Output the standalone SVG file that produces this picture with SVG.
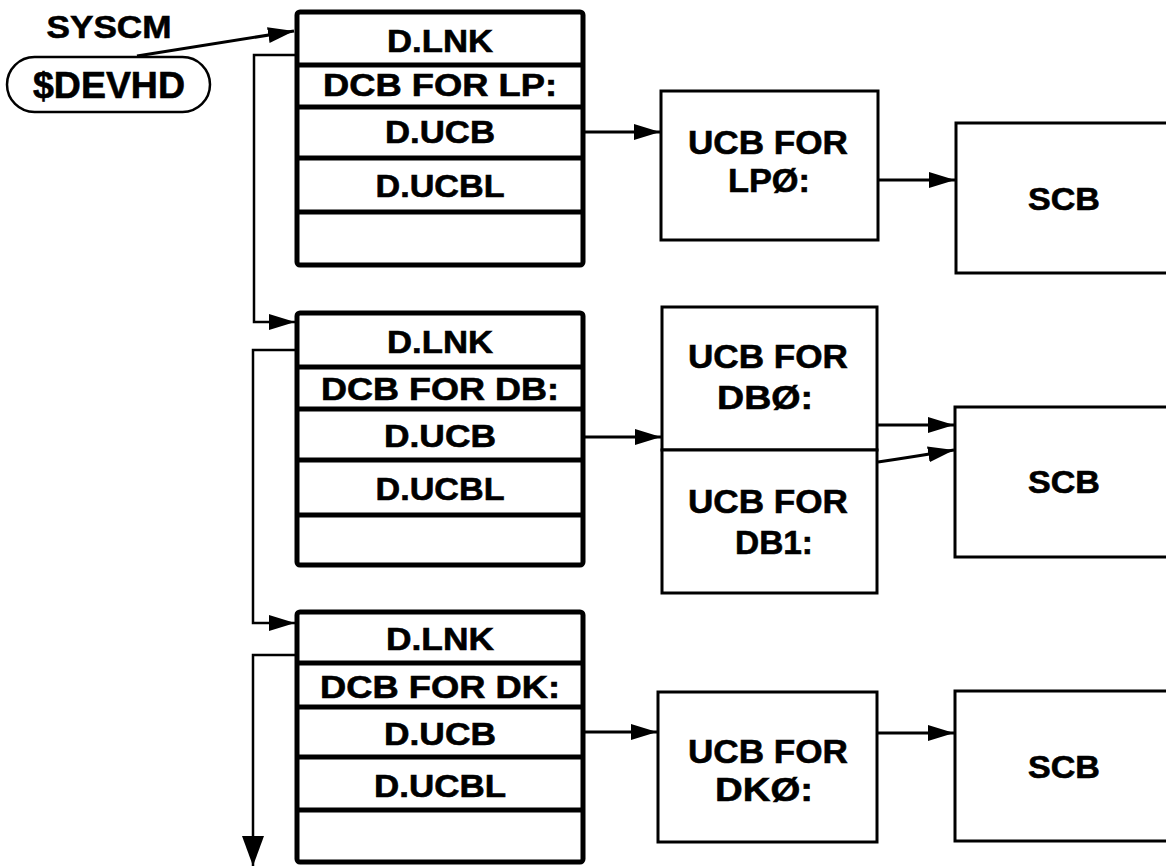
<svg xmlns="http://www.w3.org/2000/svg" width="1166" height="867" viewBox="0 0 1166 867">
<style>
.bg{fill:#fff}
.dcb{fill:#fff;stroke:#000;stroke-width:5}
.div{stroke:#000;stroke-width:5}
.box{fill:#fff;stroke:#000;stroke-width:3}
.oval{fill:#fff;stroke:#000;stroke-width:2.5}
.ln{fill:none;stroke:#000;stroke-width:3}
.lk{fill:none;stroke:#000;stroke-width:2.5}
text{font-family:"Liberation Sans",Arial,sans-serif;font-weight:bold;fill:#000;stroke:#000;stroke-width:0.6;text-anchor:middle}
.t28{font-size:31px}
.t32{font-size:34px}
</style>
<defs>
<marker id="ah" markerWidth="26" markerHeight="16" refX="26" refY="8" orient="auto" markerUnits="userSpaceOnUse">
<path d="M0,0 L26,8 L0,16 Z" fill="#000"/>
</marker>
<marker id="ahBig" markerWidth="30" markerHeight="22" refX="30" refY="11" orient="auto" markerUnits="userSpaceOnUse">
<path d="M0,0 L30,11 L0,22 Z" fill="#000"/>
</marker>
</defs>
<rect class="bg" x="0" y="0" width="1166" height="867"/>

<g id="syscm">
<text x="109" y="38" style="font-size:32px" textLength="125" lengthAdjust="spacingAndGlyphs">SYSCM</text>
<rect class="oval" x="7" y="57" width="203" height="55" rx="27.5" ry="27.5"/>
<text x="109" y="98" style="font-size:37px" textLength="152" lengthAdjust="spacingAndGlyphs">$DEVHD</text>
</g>

<g id="dcb-lp" transform="translate(297,12)">
<rect class="dcb" x="0" y="0" width="286" height="253" rx="3"/>
<line class="div" x1="0" y1="53" x2="286" y2="53"/>
<line class="div" x1="0" y1="95" x2="286" y2="95"/>
<line class="div" x1="0" y1="146" x2="286" y2="146"/>
<line class="div" x1="0" y1="200" x2="286" y2="200"/>
<text class="t28" x="143" y="40" textLength="106" lengthAdjust="spacingAndGlyphs">D.LNK</text>
<text class="t28" x="143" y="84" textLength="234" lengthAdjust="spacingAndGlyphs">DCB FOR LP:</text>
<text class="t28" x="143" y="131" textLength="110" lengthAdjust="spacingAndGlyphs">D.UCB</text>
<text class="t28" x="143" y="185" textLength="129" lengthAdjust="spacingAndGlyphs">D.UCBL</text>
</g>

<g id="dcb-db" transform="translate(297,313)">
<rect class="dcb" x="0" y="0" width="286" height="252" rx="3"/>
<line class="div" x1="0" y1="54" x2="286" y2="54"/>
<line class="div" x1="0" y1="96" x2="286" y2="96"/>
<line class="div" x1="0" y1="147" x2="286" y2="147"/>
<line class="div" x1="0" y1="202" x2="286" y2="202"/>
<text class="t28" x="143" y="40" textLength="106" lengthAdjust="spacingAndGlyphs">D.LNK</text>
<text class="t28" x="143" y="87" textLength="238" lengthAdjust="spacingAndGlyphs">DCB FOR DB:</text>
<text class="t28" x="143" y="134" textLength="112" lengthAdjust="spacingAndGlyphs">D.UCB</text>
<text class="t28" x="143" y="187" textLength="129" lengthAdjust="spacingAndGlyphs">D.UCBL</text>
</g>

<g id="dcb-dk" transform="translate(297,612)">
<rect class="dcb" x="0" y="0" width="286" height="250" rx="3"/>
<line class="div" x1="0" y1="51" x2="286" y2="51"/>
<line class="div" x1="0" y1="95" x2="286" y2="95"/>
<line class="div" x1="0" y1="145" x2="286" y2="145"/>
<line class="div" x1="0" y1="198" x2="286" y2="198"/>
<text class="t28" x="143" y="38" textLength="108" lengthAdjust="spacingAndGlyphs">D.LNK</text>
<text class="t28" x="143" y="86" textLength="240" lengthAdjust="spacingAndGlyphs">DCB FOR DK:</text>
<text class="t28" x="143" y="133" textLength="112" lengthAdjust="spacingAndGlyphs">D.UCB</text>
<text class="t28" x="143" y="185" textLength="132" lengthAdjust="spacingAndGlyphs">D.UCBL</text>
</g>

<g id="ucb-lp0">
<rect class="box" x="661" y="91" width="217" height="149"/>
<text class="t32" x="768" y="154" textLength="160" lengthAdjust="spacingAndGlyphs">UCB FOR</text>
<text class="t32" x="769" y="192" textLength="82" lengthAdjust="spacingAndGlyphs">LPØ:</text>
</g>

<g id="ucb-db0">
<rect class="box" x="662" y="307" width="215" height="143"/>
<text class="t32" x="768" y="368" textLength="160" lengthAdjust="spacingAndGlyphs">UCB FOR</text>
<text class="t32" x="765" y="409" textLength="96" lengthAdjust="spacingAndGlyphs">DBØ:</text>
</g>

<g id="ucb-db1">
<rect class="box" x="662" y="450" width="215" height="143"/>
<text class="t32" x="768" y="513" textLength="160" lengthAdjust="spacingAndGlyphs">UCB FOR</text>
<text class="t32" x="774" y="554" textLength="78" lengthAdjust="spacingAndGlyphs">DB1:</text>
</g>

<g id="ucb-dk0">
<rect class="box" x="658" y="692" width="219" height="150"/>
<text class="t32" x="768" y="763" textLength="160" lengthAdjust="spacingAndGlyphs">UCB FOR</text>
<text class="t32" x="764" y="801" textLength="98" lengthAdjust="spacingAndGlyphs">DKØ:</text>
</g>

<g id="scb-lp">
<rect class="box" x="956" y="123" width="230" height="150"/>
<text class="t28" x="1064" y="210" textLength="72" lengthAdjust="spacingAndGlyphs">SCB</text>
</g>

<g id="scb-db">
<rect class="box" x="955" y="407" width="230" height="150"/>
<text class="t28" x="1064" y="493" textLength="72" lengthAdjust="spacingAndGlyphs">SCB</text>
</g>

<g id="scb-dk">
<rect class="box" x="955" y="691" width="230" height="150"/>
<text class="t28" x="1064" y="778" textLength="72" lengthAdjust="spacingAndGlyphs">SCB</text>
</g>

<g id="connectors">
<path class="ln" d="M137,56 L294,31" marker-end="url(#ah)"/>
<path class="lk" d="M297,55 H254 V322 H295" marker-end="url(#ah)"/>
<path class="lk" d="M297,350 H253 V623 H295" marker-end="url(#ah)"/>
<path class="lk" d="M297,655 H253 V866" marker-end="url(#ahBig)"/>
<path class="ln" d="M583,132 H660" marker-end="url(#ah)"/>
<path class="ln" d="M878,180 H955" marker-end="url(#ah)"/>
<path class="ln" d="M583,437 H661" marker-end="url(#ah)"/>
<path class="ln" d="M878,425 H954" marker-end="url(#ah)"/>
<path class="ln" d="M878,462 Q912,457 954,450" marker-end="url(#ah)"/>
<path class="ln" d="M583,732 H657" marker-end="url(#ah)"/>
<path class="ln" d="M877,733 H954" marker-end="url(#ah)"/>
</g>
</svg>
